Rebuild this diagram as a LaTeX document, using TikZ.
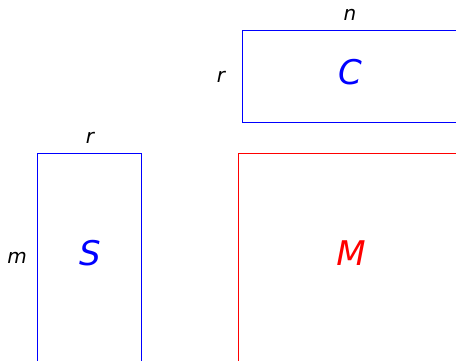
\documentclass[tikz,border=0pt]{standalone}
\usepackage{fontspec}
\setmainfont{DejaVu Sans}
\definecolor{pblue}{RGB}{0,0,255}
\definecolor{pred}{RGB}{255,0,0}
\begin{document}
\begin{tikzpicture}[x=1pt,y=-1pt,
  lbl/.style={anchor=base,inner sep=0pt,font=\fontsize{20}{24}\selectfont\itshape},
  big/.style={anchor=base,inner sep=0pt,font=\fontsize{34}{40}\selectfont\itshape},
  bluebox/.style={line width=1.1pt,draw=pblue},
  redbox/.style={line width=1.1pt,draw=pred}]
\useasboundingbox (0,0) rectangle (456,360);
\draw[bluebox] (460,30.5) -- (242.5,30.5) -- (242.5,122.5) -- (460,122.5);
\draw[bluebox] (37.5,365) -- (37.5,153.5) -- (141.5,153.5) -- (141.5,365);
\draw[redbox] (238.5,365) -- (238.5,153.5) -- (460,153.5);
\node[big,text=pblue] (C) at (350,84) {C};
\node[big,text=pblue] (S) at (90,265) {S};
\node[big,text=pred] (M) at (351,265) {M};
\node[lbl] (n) at (350,20) {n};
\node[lbl] (r1) at (221,82) {r};
\node[lbl] (r2) at (90,143) {r};
\node[lbl] (m) at (17,263) {m};
\end{tikzpicture}
\end{document}
